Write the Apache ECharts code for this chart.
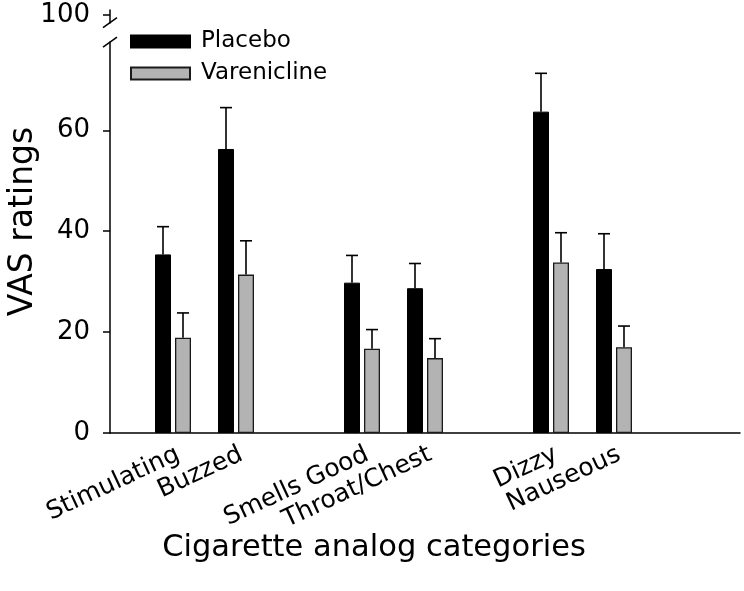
<!DOCTYPE html>
<html>
<head>
<meta charset="utf-8">
<script src="https://cdn.jsdelivr.net/npm/echarts@6/dist/echarts.min.js"></script>
<style>
html,body{margin:0;padding:0;background:#fff;}
#chart{width:744px;height:591px;}
</style>
</head>
<body>
<div id="chart"></div>
<script>
// ---- data ----
var categories = ['', 'Stimulating', 'Buzzed', '', 'Smells Good', 'Throat/Chest', '', 'Dizzy', 'Nauseous', '', ''];
var placebo      = [null, 35.4, 56.3, null, 29.8, 28.7, null, 63.7, 32.5, null, null];
var placeboErr   = [null, 5.5, 8.2, null, 5.4, 4.9, null, 7.6, 7.0, null, null];
var varenicline    = [null, 18.9, 31.4, null, 16.7, 14.85, null, 33.8, 17.0, null, null];
var vareniclineErr = [null, 4.9, 6.7, null, 3.8, 3.85, null, 5.9, 4.2, null, null];
var yTickValues = [0, 20, 40, 60, 100];
var yBreak = {start: 77.5, end: 98.5, gap: 3.85};

var FONT = 'DejaVu Sans';
var chart = echarts.init(document.getElementById('chart'), null, {renderer: 'canvas'});

function errData(vals, errs) {
  var out = [];
  for (var i = 0; i < categories.length; i++) {
    if (vals[i] != null) out.push([i, vals[i], errs[i]]);
  }
  return out;
}
function errRender(offset) {
  return function (params, api) {
    var c = api.value(0), v = api.value(1), e = api.value(2);
    var base = api.coord([c, v]);
    var top = api.coord([c, v + e]);
    var x = base[0] + offset;
    var st = {stroke: '#000', lineWidth: 1.6, fill: null};
    return {
      type: 'group',
      children: [
        {type: 'line', shape: {x1: x, y1: base[1], x2: x, y2: top[1]}, style: st},
        {type: 'line', shape: {x1: x - 6, y1: top[1], x2: x + 6, y2: top[1]}, style: st}
      ]
    };
  };
}

var option = {
  animation: false,
  backgroundColor: '#fff',
  textStyle: {fontFamily: FONT, color: '#000'},
  grid: {left: 110, right: 4, top: 10, bottom: 158, containLabel: false, outerBoundsMode: 'none'},
  legend: {
    orient: 'vertical',
    left: 125,
    top: 25,
    itemWidth: 59,
    itemHeight: 12,
    itemGap: 9,
    icon: 'rect',
    textStyle: {fontFamily: FONT, fontSize: 23, color: '#000', padding: [0, 0, 0, 6]},
    data: ['Placebo', 'Varenicline']
  },
  xAxis: {
    type: 'category',
    data: categories,
    boundaryGap: false,
    name: 'Cigarette analog categories',
    nameLocation: 'middle',
    nameGap: 100,
    nameMoveOverlap: false,
    nameTextStyle: {fontFamily: FONT, fontSize: 30.5, color: '#000', padding: [0, 102, 0, 0]},
    axisLine: {lineStyle: {color: '#000', width: 1.5}},
    axisTick: {show: false},
    axisLabel: {interval: 0, rotate: 25, margin: 9, align: 'right', verticalAlign: 'top',
      fontFamily: FONT, fontSize: 25, color: '#000'},
    splitLine: {show: false}
  },
  yAxis: {
    type: 'value',
    min: 0,
    max: 101,
    breaks: [yBreak],
    breakArea: {
      show: true,
      zigzagAmplitude: 0,
      itemStyle: {color: 'rgba(255,255,255,0)', borderWidth: 0, opacity: 1}
    },
    name: 'VAS ratings',
    nameLocation: 'middle',
    nameGap: 70,
    nameMoveOverlap: false,
    nameRotate: 90,
    nameTextStyle: {fontFamily: FONT, fontSize: 33, color: '#000'},
    axisLine: {show: true, lineStyle: {color: '#000', width: 1.5}},
    axisTick: {show: true, length: 7, customValues: yTickValues, lineStyle: {color: '#000', width: 1.5}},
    axisLabel: {customValues: yTickValues, margin: 20, fontFamily: FONT, fontSize: 26, color: '#000'},
    splitLine: {show: false}
  },
  series: [
    {
      name: 'Placebo',
      type: 'bar',
      data: placebo,
      barWidth: 16,
      barGap: '25%',
      itemStyle: {color: '#000', borderColor: '#000', borderWidth: 1}
    },
    {
      name: 'Varenicline',
      type: 'bar',
      data: varenicline,
      barWidth: 16,
      barGap: '25%',
      itemStyle: {color: '#b3b3b3', borderColor: '#1a1a1a', borderWidth: 1.3}
    },
    {
      type: 'custom',
      name: 'PlaceboErr',
      renderItem: errRender(-10),
      encode: {x: 0, y: 1},
      data: errData(placebo, placeboErr),
      z: 3
    },
    {
      type: 'custom',
      name: 'VareniclineErr',
      renderItem: errRender(10),
      encode: {x: 0, y: 1},
      data: errData(varenicline, vareniclineErr),
      z: 3
    }
  ]
};
chart.setOption(option);

// axis break slashes (decoration)
var ax = chart.convertToPixel({xAxisIndex: 0}, 0);
var yLo = chart.convertToPixel({yAxisIndex: 0}, yBreak.start);
var yHi = chart.convertToPixel({yAxisIndex: 0}, yBreak.end);
function slash(y) {
  return {type: 'line', shape: {x1: ax - 7, y1: y + 5, x2: ax + 7, y2: y - 5}, style: {stroke: '#000', lineWidth: 1.5}, z: 101};
}
chart.setOption({graphic: [slash(yLo), slash(yHi)]});
</script>
</body>
</html>
